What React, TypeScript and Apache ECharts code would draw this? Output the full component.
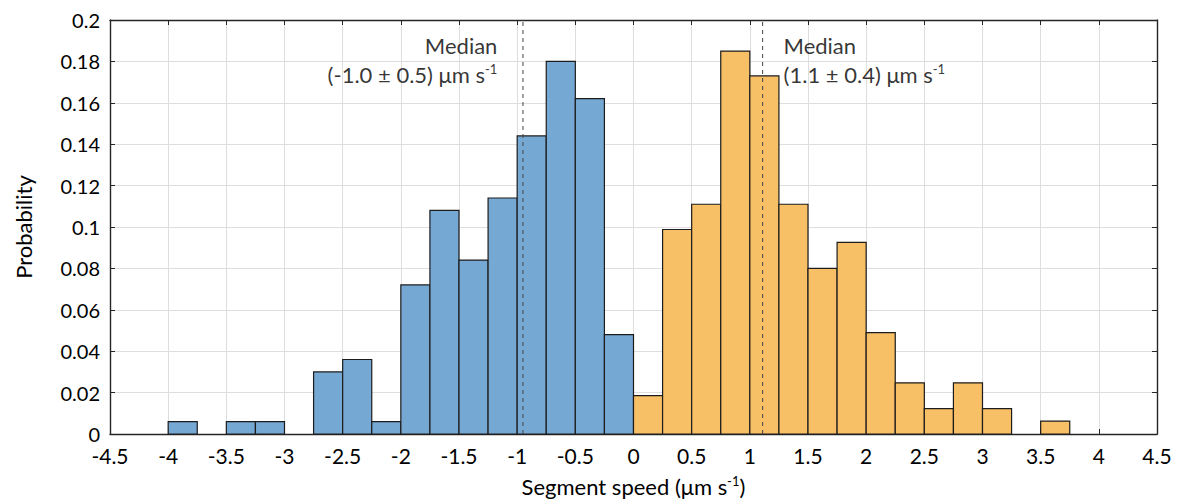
import React, { useEffect, useRef } from "react";
import * as echarts from "echarts";

const binWidth = 0.25;
const blueStarts = [-4.0, -3.75, -3.5, -3.25, -3.0, -2.75, -2.5, -2.25, -2.0, -1.75, -1.5, -1.25, -1.0, -0.75, -0.5, -0.25];
const blueValues = [0.006, 0, 0.006, 0.006, 0, 0.030, 0.036, 0.006, 0.072, 0.108, 0.084, 0.114, 0.144, 0.180, 0.162, 0.048];
const orangeStarts = [0.0, 0.25, 0.5, 0.75, 1.0, 1.25, 1.5, 1.75, 2.0, 2.25, 2.5, 2.75, 3.0, 3.25, 3.5];
const orangeValues = [0.0185, 0.0988, 0.111, 0.185, 0.173, 0.111, 0.080, 0.0926, 0.049, 0.0247, 0.0123, 0.0247, 0.0123, 0, 0.0062];
const medianBlue = -0.95;
const medianOrange = 1.11;
const blueLabel = ["Median", "(-1.0 ± 0.5) μm s", "-1"];
const orangeLabel = ["Median", "(1.1 ± 0.4) μm s", "-1"];

const FONT = "Lato, 'DejaVu Sans', sans-serif";
const BLUE = "#76a8d4";
const ORANGE = "#f7bf66";
const INK = "#000";

function binData(starts: number[], values: number[]) {
  return starts.map((s, i) => [s, s + binWidth, values[i]]);
}

function histSeries(starts: number[], values: number[], color: string) {
  return {
    type: "custom",
    data: binData(starts, values),
    encode: { x: [0, 1], y: 2 },
    z: 3,
    renderItem: (params: any, api: any) => {
      const v = api.value(2);
      if (!v) return null;
      const p0 = api.coord([api.value(0), v]);
      const p1 = api.coord([api.value(1), 0]);
      return {
        type: "rect",
        shape: { x: p0[0], y: p0[1], width: p1[0] - p0[0], height: p1[1] - p0[1] },
        style: { fill: color, stroke: "#1c1c1c", lineWidth: 1.2 },
      };
    },
  };
}

export default function App() {
  const ref = useRef<HTMLDivElement>(null);
  useEffect(() => {
    if (!ref.current) return;
    const chart = echarts.init(ref.current, undefined, { renderer: "svg" });
    const axisCommon = {
      axisLine: { show: true, onZero: false, lineStyle: { color: "#262626", width: 1.4 } },
      axisTick: { show: true, inside: true, length: 5, lineStyle: { color: "#262626" } },
    };
    const rich = {
      t: { fontSize: 22, fontFamily: FONT, color: INK, lineHeight: 29 },
      s: { fontSize: 13, fontFamily: FONT, color: INK, lineHeight: 29, padding: [0, 0, 11, 0] },
    };
    chart.setOption({
      animation: false,
      backgroundColor: "#fff",
      textStyle: { fontFamily: FONT },
      grid: { left: 110, right: 22, top: 20, bottom: 68 },
      xAxis: [
        {
          type: "value",
          min: -4.5,
          max: 4.5,
          interval: 0.5,
          ...axisCommon,
          axisLabel: { color: INK, fontSize: 21, lineHeight: 17, fontFamily: FONT, margin: 13 },
          splitLine: { show: true, lineStyle: { color: "#dedede", width: 1 } },
          name: "Segment speed (μm s{s|-1})",
          nameLocation: "middle",
          nameGap: 40,
          nameTextStyle: {
            fontSize: 22,
            color: INK,
            fontFamily: FONT,
            rich: { s: { fontSize: 13, fontFamily: FONT, color: INK, padding: [0, 0, 11, 0] } },
          },
        },
        {
          type: "value",
          position: "top",
          min: -4.5,
          max: 4.5,
          interval: 0.5,
          ...axisCommon,
          axisLabel: { show: false },
          splitLine: { show: false },
        },
      ],
      yAxis: [
        {
          type: "value",
          min: 0,
          max: 0.2,
          interval: 0.02,
          ...axisCommon,
          axisLabel: { color: INK, fontSize: 20, lineHeight: 16, fontFamily: FONT, margin: 10 },
          splitLine: { show: true, lineStyle: { color: "#dedede", width: 1 } },
          name: "Probability",
          nameLocation: "middle",
          nameGap: 76,
          nameTextStyle: { fontSize: 22, color: INK, fontFamily: FONT },
        },
        {
          type: "value",
          position: "right",
          min: 0,
          max: 0.2,
          interval: 0.02,
          ...axisCommon,
          axisLabel: { show: false },
          splitLine: { show: false },
        },
      ],
      series: [
        histSeries(blueStarts, blueValues, BLUE),
        histSeries(orangeStarts, orangeValues, ORANGE),
        {
          type: "line",
          data: [[medianBlue, 0], [medianBlue, 0.2]],
          symbol: "none",
          z: 5,
          lineStyle: { color: "#444", width: 1, type: [4, 4] },
        },
        {
          type: "line",
          data: [[medianOrange, 0], [medianOrange, 0.2]],
          symbol: "none",
          z: 5,
          lineStyle: { color: "#444", width: 1, type: [4, 4] },
        },
        {
          type: "scatter",
          symbolSize: 0,
          z: 6,
          data: [[medianBlue - 0.22, 0.1805]],
          label: {
            show: true,
            position: "inside",
            align: "right",
            verticalAlign: "middle",
            formatter: `{t|${blueLabel[0]}}\n{t|${blueLabel[1]}}{s|${blueLabel[2]}}`,
            rich,
          },
        },
        {
          type: "scatter",
          symbolSize: 0,
          z: 6,
          data: [[medianOrange + 0.18, 0.1805]],
          label: {
            show: true,
            position: "inside",
            align: "left",
            verticalAlign: "middle",
            formatter: `{t|${orangeLabel[0]}}\n{t|${orangeLabel[1]}}{s|${orangeLabel[2]}}`,
            rich,
          },
        },
      ],
    });
    return () => chart.dispose();
  }, []);
  return <div ref={ref} style={{ width: 1179, height: 502, position: "absolute", left: 0, top: 0 }} />;
}
